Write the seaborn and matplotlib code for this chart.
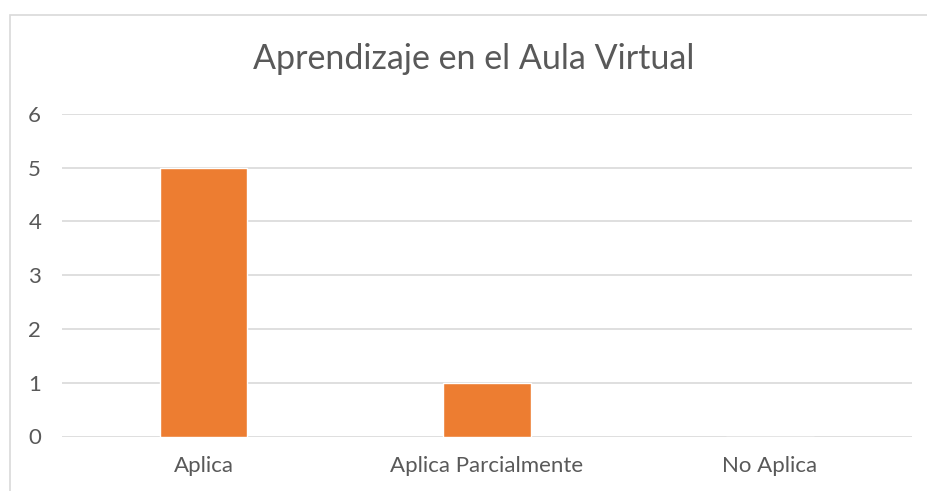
import pandas as pd
import matplotlib.pyplot as plt
import seaborn as sns
from matplotlib.patches import Rectangle

# datos del gráfico
categorias = ["Aplica", "Aplica Parcialmente", "No Aplica"]
valores = [5, 1, 0]
ticks_y = [0, 1, 2, 3, 4, 5, 6]

df = pd.DataFrame({"categoria": categorias, "valor": valores})

sns.set_style("white")
plt.rcParams['font.family'] = ['Lato', 'DejaVu Sans']

fig = plt.figure(figsize=(9.27, 4.91), dpi=100)
ax = fig.add_axes([62/927, 1 - 436.5/491, (911.5 - 62)/927, (436.5 - 114)/491])

# marco del gráfico
fig.patches.append(Rectangle((10/927, -0.01), 1.0, 1 - 14.5/491 + 0.01,
                             transform=fig.transFigure, fill=False,
                             edgecolor='#D9D9D9', linewidth=1.2))

sns.barplot(x="categoria", y="valor", data=df, color='#ED7D31', width=0.31,
            saturation=1, ax=ax, zorder=3)

ax.set_ylim(0, 6)
ax.set_yticks(ticks_y)
ax.grid(axis='y', color='#D9D9D9', linewidth=1.2, zorder=0)
for s in ax.spines.values():
    s.set_visible(False)
ax.tick_params(axis='both', length=0, labelsize=16, colors='#595959')
ax.tick_params(axis='y', pad=15)
ax.tick_params(axis='x', pad=14)
ax.set_xlabel("")
ax.set_ylabel("")

fig.text(474/927, 1 - 59/491, "Aprendizaje en el Aula Virtual", ha='center',
         va='center', fontsize=24.5, color='#595959')

fig.savefig("out.png", dpi=100)
